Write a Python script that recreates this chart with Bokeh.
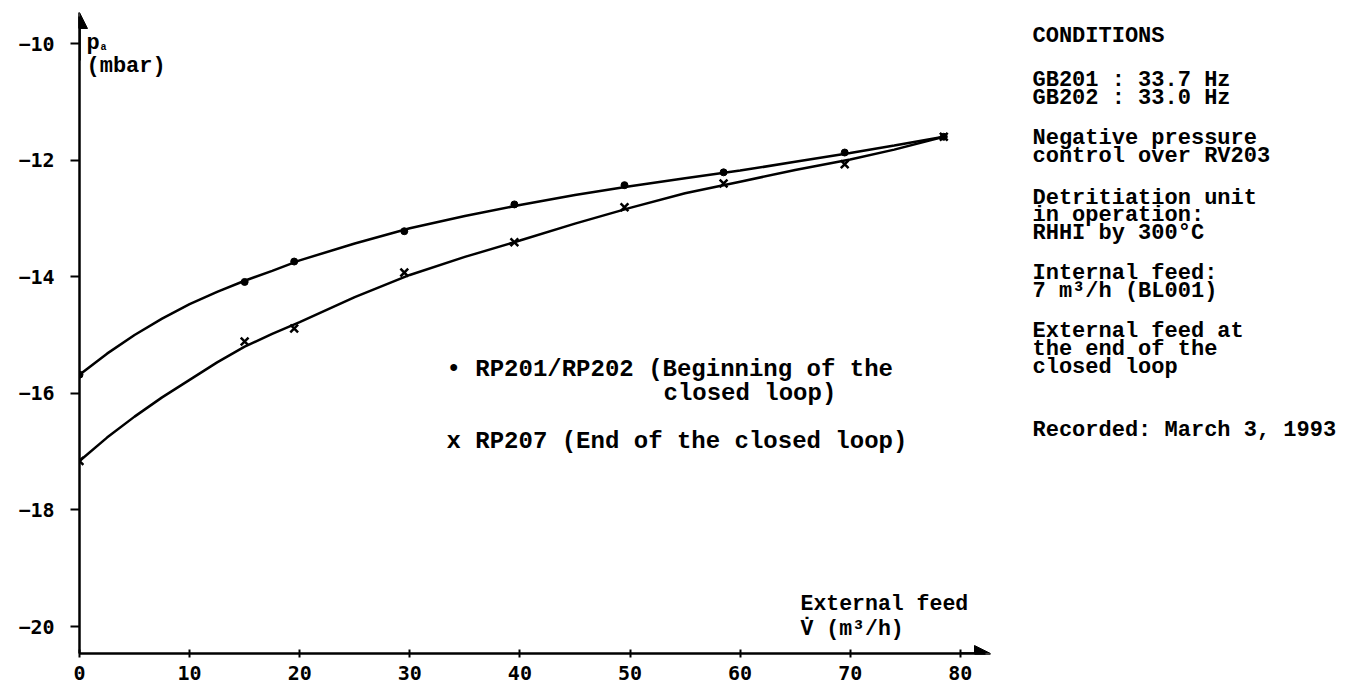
from bokeh.plotting import figure
from bokeh.models import Range1d, Label, Arrow, NormalHead, FixedTicker
from bokeh.embed import file_html
from bokeh.resources import INLINE

# ---- data ----
feed_dot = [0, 15, 19.5, 29.5, 39.5, 49.5, 58.5, 69.5, 78.5]
p_dot = [-15.68, -14.09, -13.74, -13.22, -12.76, -12.43, -12.21, -11.87, -11.6]
feed_cross = [0, 15, 19.5, 29.5, 39.5, 49.5, 58.5, 69.5, 78.5]
p_cross = [-17.16, -15.11, -14.89, -13.93, -13.41, -12.81, -12.40, -12.07, -11.6]

# hand-drawn smooth curves
curve_up_x = [0, 2.5, 5, 7.5, 10, 12.5, 15, 17.5, 20, 25, 30, 35, 40, 45, 50, 55, 60, 65, 70, 74, 78.5]
curve_up_y = [-15.68, -15.32, -15.0, -14.72, -14.47, -14.26, -14.07, -13.9, -13.72, -13.43, -13.17,
              -12.96, -12.77, -12.6, -12.45, -12.31, -12.18, -12.03, -11.88, -11.75, -11.6]
curve_lo_x = [0, 2.5, 5, 7.5, 10, 12.5, 15, 17.5, 20, 25, 30, 35, 40, 45, 50, 55, 60, 65, 70, 74, 78.5]
curve_lo_y = [-17.16, -16.76, -16.4, -16.07, -15.77, -15.47, -15.2, -14.98, -14.78, -14.35, -13.97,
              -13.66, -13.38, -13.09, -12.82, -12.57, -12.37, -12.17, -11.99, -11.82, -11.6]

x_ticks = [0, 10, 20, 30, 40, 50, 60, 70, 80]
y_ticks = [-20, -18, -16, -14, -12, -10]

conditions = [
    "CONDITIONS",
    "GB201 : 33.7 Hz", "GB202 : 33.0 Hz",
    "Negative pressure", "control over RV203",
    "Detritiation unit", "in operation:", "RHHI by 300°C",
    "Internal feed:", "7 m³/h (BL001)",
    "External feed at", "the end of the", "closed loop",
    "Recorded: March 3, 1993",
]
# baselines of the lines (screen px)
cond_base = [36, 80, 98, 138, 156, 198, 215, 233, 273, 291, 331, 349, 367, 430]

# ---- layout ----
W, H = 1353, 685
LEFT = 79
X_SCALE = 11.01      # px per unit
Y0_PX, Y_SCALE = 43, 58.3       # px of y=-10, px per unit
FRAME_TOP = 10
FRAME_BOTTOM = 653
frame_w = W - LEFT
x_end = frame_w / X_SCALE
y_top = -10 + (Y0_PX - FRAME_TOP) / Y_SCALE
y_bot = -10 - (FRAME_BOTTOM - Y0_PX) / Y_SCALE


def dx(px):
    return (px - LEFT) / X_SCALE


def dy(py):
    return -10 - (py - Y0_PX) / Y_SCALE


p = figure(width=W, height=H, output_backend="svg", toolbar_location=None,
           x_range=Range1d(0, x_end), y_range=Range1d(y_bot, y_top),
           min_border_left=LEFT, min_border_right=0, min_border_top=FRAME_TOP,
           min_border_bottom=H - FRAME_BOTTOM)
p.outline_line_color = None
p.grid.visible = False
p.background_fill_color = "white"
p.border_fill_color = "white"

TICK_FONT = "DejaVu Sans Mono"
TXT_FONT = "Liberation Mono"

p.xaxis.ticker = FixedTicker(ticks=x_ticks)
p.yaxis.ticker = FixedTicker(ticks=y_ticks)
for ax in (p.xaxis, p.yaxis):
    ax.axis_line_width = 2.5
    ax.axis_line_color = "black"
    ax.major_tick_line_width = 2
    ax.major_tick_line_color = "black"
    ax.minor_tick_line_color = None
    ax.major_label_text_font = TICK_FONT
    ax.major_label_text_font_size = "20px"
    ax.major_label_text_font_style = "bold"
    ax.major_label_text_color = "black"
p.xaxis.bounds = (0, dx(985))
p.yaxis.bounds = (y_bot, dy(16))
p.xaxis.major_tick_in = 4
p.xaxis.major_tick_out = 4
p.xaxis.major_label_standoff = 8
p.yaxis.major_tick_in = 0
p.yaxis.major_tick_out = 9
p.yaxis.major_label_standoff = 16

# arrow heads
p.add_layout(Arrow(end=NormalHead(size=16, fill_color="black", line_color="black"),
                   x_start=dx(960), y_start=y_bot, x_end=dx(990), y_end=y_bot,
                   line_width=2.5, line_color="black"))
p.add_layout(Arrow(end=NormalHead(size=16, fill_color="black", line_color="black"),
                   x_start=0, y_start=dy(60), x_end=0, y_end=dy(12),
                   line_width=2.5, line_color="black"))

# curves and points
p.line(curve_up_x, curve_up_y, line_width=2.5, line_color="black")
p.line(curve_lo_x, curve_lo_y, line_width=2.5, line_color="black")
p.scatter(feed_dot, p_dot, marker="circle", size=7, fill_color="black", line_color="black")
p.scatter(feed_cross, p_cross, marker="x", size=11, line_width=2.5, line_color="black")


def lab(text, px, py, size="22px", base="alphabetic", style="bold", font=TXT_FONT, align="left"):
    p.add_layout(Label(x=dx(px), y=dy(py), text=text, text_font=font, text_font_size=size,
                       text_font_style=style, text_baseline=base, text_align=align,
                       text_color="black"))


# axis titles
lab("p", 86, 43)
lab("a", 100, 47, size="10px")
lab("(mbar)", 86, 66)
lab("External feed", 800, 603, size="21.5px")
lab("V\u0307 (m³/h)", 800, 628, size="21.5px")

# legend
lab("\u2022 RP201/RP202 (Beginning of the", 446, 369, size="24px")
lab("closed loop)", 663, 393, size="24px")
lab("x RP207 (End of the closed loop)", 446, 441, size="24px")

# conditions block
RX = 1032
for text, base in zip(conditions, cond_base):
    lab(text, RX, base, size="22px")

open("out.html", "w").write(file_html(p, INLINE))
